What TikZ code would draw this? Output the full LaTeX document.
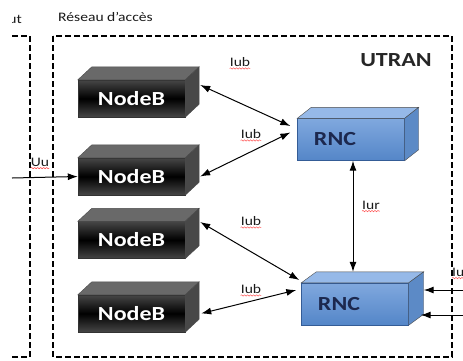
\documentclass[tikz,border=0pt]{standalone}
\usepackage{fontspec}
\setmainfont{Carlito}[FakeStretch=1.2]
\usetikzlibrary{calc,positioning,arrows.meta,decorations.pathmorphing}

\definecolor{nbtop}{RGB}{105,105,105}
\definecolor{nbside}{RGB}{72,72,72}
\definecolor{rncfront}{RGB}{84,134,200}
\definecolor{rnclight}{RGB}{128,168,222}
\definecolor{rnctop}{RGB}{150,185,232}
\definecolor{rncside}{RGB}{92,138,198}
\definecolor{rncedge}{RGB}{52,92,150}
\definecolor{rnctext}{RGB}{28,40,78}

\tikzset{
  zone/.style={black,line width=1.1pt,dash pattern=on 6pt off 3pt},
  nodeb/.style={minimum width=107pt,minimum height=37pt,inner sep=0pt,
    draw=black!80,top color=gray!55!black,bottom color=gray!55!black,middle color=black,
    text=white,font=\fontsize{20}{22}\selectfont\bfseries},
  rnc/.style={minimum width=107pt,minimum height=42pt,inner sep=0pt,
    draw=rncedge,top color=rnclight,bottom color=rncfront},
  rnclbl/.style={xshift=-16pt,inner sep=0pt,text=rnctext,font=\fontsize{20}{22}\selectfont\bfseries},
  lbl/.style={inner sep=1pt,text=black!90,font=\fontsize{13}{15}\selectfont},
  lnk/.style={black,line width=1pt,{Latex[length=10pt,width=7pt]}-{Latex[length=10pt,width=7pt]}},
  lnkone/.style={black,line width=1pt,-{Latex[length=10pt,width=7pt]}},
  spell/.style={red!80,line width=0.4pt,decorate,decoration={snake,amplitude=0.7pt,segment length=3pt}}
}

\begin{document}
\begin{tikzpicture}[x=1pt,y=-1pt]
\useasboundingbox (0,0) rectangle (463,360);

% zones
\draw[zone] (12,36) -- (30,36) -- (30,357) -- (12,357);
\draw[zone] (53,36) rectangle (452,357);

\begin{scope}
  \clip (12,5) rectangle (40,32);
  \node[lbl,anchor=east] (ue) at (23,19) {ut};
\end{scope}
\node[lbl,anchor=west] (acc) at (57,17) {Réseau d’accès};
\node[inner sep=0pt,font=\fontsize{20}{22}\selectfont\bfseries,text=black!85] (utran) at (396,60) {UTRAN};

% boxes
\node[nodeb] (nb1) at (131.5,98.5) {NodeB};
\node[nodeb] (nb2) at (131.5,176.5) {NodeB};
\node[nodeb] (nb3) at (131.5,240) {NodeB};
\node[nodeb] (nb4) at (131.5,313.5) {NodeB};
\node[rnc,label={[rnclbl]center:RNC}] (rnc1) at (351,139.5) {};
\node[rnc,label={[rnclbl]center:RNC}] (rnc2) at (355,304) {};

\foreach \n/\dx/\dy/\ct/\cs in {nb1/14/13/nbtop/nbside,nb2/14/13/nbtop/nbside,
    nb3/14/13/nbtop/nbside,nb4/14/13/nbtop/nbside,
    rnc1/14/11/rnctop/rncside,rnc2/15/11/rnctop/rncside}{
  \filldraw[fill=\ct,draw=black!70] (\n.north west) -- ++(\dx,-\dy) -- ($(\n.north east)+(\dx,-\dy)$) -- (\n.north east) -- cycle;
  \filldraw[fill=\cs,draw=black!70] (\n.north east) -- ++(\dx,-\dy) -- ($(\n.south east)+(\dx,-\dy)$) -- (\n.south east) -- cycle;
}

% links
\coordinate (ue1) at (12,178);
\coordinate (iu1) at (466,290);
\coordinate (iu2) at (466,315);

\draw[lnk] ($(nb1.east)+(15,-13.5)$) -- ($(rnc1.west)+(-7,-13.5)$);
\draw[lnk] ($(nb2.east)+(15,0)$) -- ($(rnc1.west)+(-7,-7)$);
\draw[lnk] ($(nb3.east)+(15,-18)$) -- ($(rnc2.west)+(-2,-24)$);
\draw[lnk] ($(nb4.east)+(16,0)$) -- ($(rnc2.west)+(-5,-14)$);
\draw[lnk] ($(rnc1.south)+(2,0)$) -- ($(rnc2.north)+(-2,-11)$);
\draw[lnkone] (ue1) -- (nb2.west);
\draw[lnkone] (iu1) -- ($(rnc2.east)+(15,-14)$);
\draw[lnkone] (iu2) -- ($(rnc2.east)+(12,11)$);

% labels
\node[lbl] (l1) at (240,62) {Iub};
\node[lbl] (l2) at (251,134) {Iub};
\node[lbl] (l3) at (251,221) {Iub};
\node[lbl] (l4) at (251,289) {Iub};
\node[lbl] (lur) at (371,205) {Iur};
\node[lbl] (luu) at (40,162) {Uu};
\node[lbl,anchor=west] (liu) at (451,272) {Iu};

\foreach \l in {l1,l2,l3,l4,lur,luu,liu}
  \draw[spell] ($(\l.base west)+(1,2)$) -- ($(\l.base east)+(-1,2)$);
\end{tikzpicture}
\end{document}
